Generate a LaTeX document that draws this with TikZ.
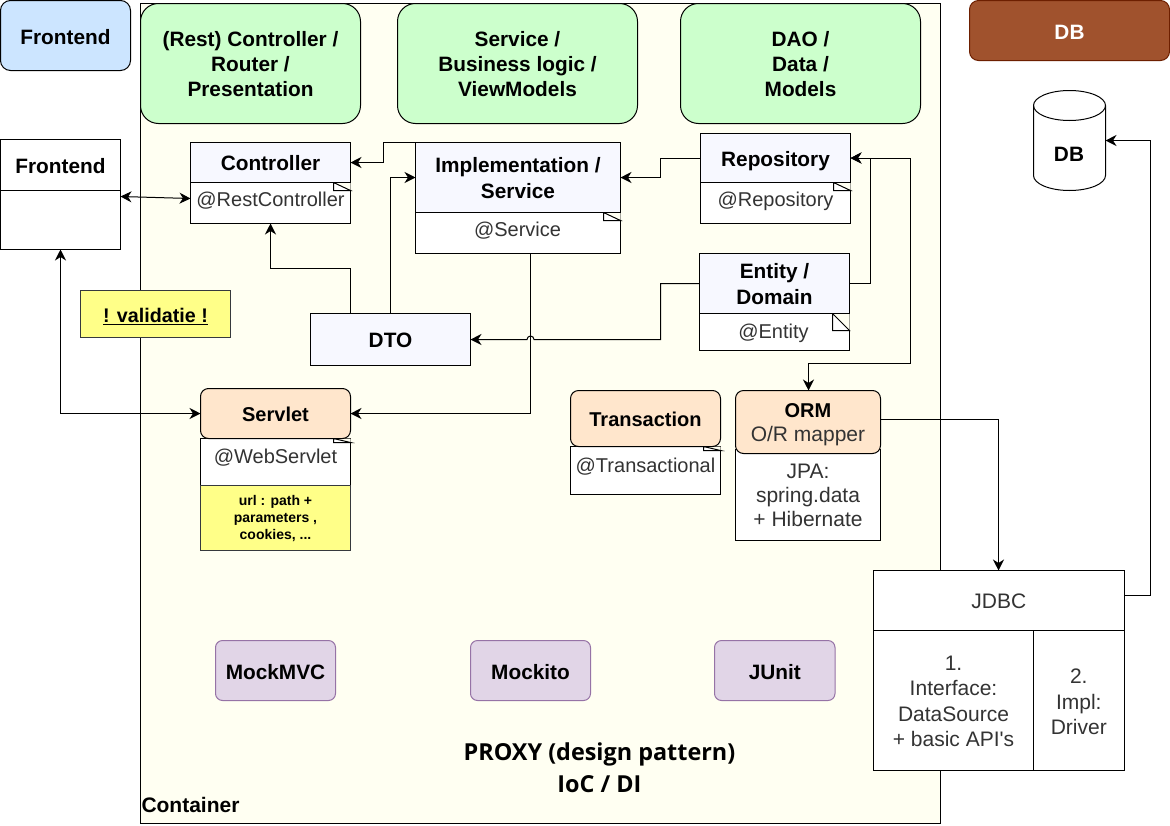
\documentclass[tikz,border=0pt]{standalone}
\usepackage{fontspec}
\setmainfont{Liberation Sans}
\newfontfamily\proxyfont{Open Sans}
\newfontfamily\aposfont{Liberation Sans}
\usetikzlibrary{arrows.meta,calc}
\newcommand{\fsz}[2]{\fontsize{#1}{#2}\selectfont}
\newcommand{\strutH}{.85}
\newcommand{\strutD}{.15}
\newcommand{\lifted}{\renewcommand{\strutH}{.81}\renewcommand{\strutD}{.19}}
\newcommand{\mystrut}{\vrule width 0pt height \strutH\baselineskip depth \strutD\baselineskip}
\tikzset{
  x=1pt,y=-1pt,
  every node/.style={inner sep=0pt,outer sep=0pt,align=center},
  strutted/.style={execute at begin node=\mystrut,execute at end node=\mystrut},
  bx/.style={draw=black,line width=1pt,anchor=north west,strutted,font=\fsz{20.8}{25}\bfseries},
  head/.style={bx,fill=headblue,font=\fsz{20.8}{25}\bfseries\lifted},
  plain/.style={bx,fill=white,font=\fsz{21}{24}},
  notebody/.style={bx,fill=white},
  notetext/.style={strutted,font=\fsz{20}{24}\color{notegray}},
  ormtext/.style={strutted,font=\fsz{21}{24}\color{notegray}},
  peach/.style={bx,fill=peachc,rounded corners=8pt,font=\fsz{20}{24}\bfseries},
  topgreen/.style={bx,fill=greenc,rounded corners=18pt,font=\fsz{20.8}{25}\bfseries\lifted},
  mock/.style={bx,fill=mockc,draw=mockd,rounded corners=7pt},
  yellowbox/.style={bx,fill=yellowc,draw=yellowd},
  conn/.style={draw=black,line width=1pt,-{Stealth[length=11pt,width=11pt,inset=3.5pt]}},
  bothconn/.style={draw=black,line width=1pt,{Stealth[length=11pt,width=11pt,inset=3.5pt]}-{Stealth[length=11pt,width=11pt,inset=3.5pt]}},
  fold/.style={draw=black,line width=1pt},
  bigtext/.style={strutted,font=\fsz{23.4}{32}\proxyfont\bfseries},
}
\definecolor{containerc}{HTML}{FFFFF2}
\definecolor{greenc}{HTML}{CCFFCC}
\definecolor{headblue}{HTML}{F7F8FF}
\definecolor{peachc}{HTML}{FFE6CC}
\definecolor{mockc}{HTML}{E1D5E7}
\definecolor{mockd}{HTML}{9673A6}
\definecolor{yellowc}{HTML}{FFFF88}
\definecolor{yellowd}{HTML}{36393D}
\definecolor{bluec}{HTML}{CCE5FF}
\definecolor{brownc}{HTML}{A0522D}
\definecolor{brownd}{HTML}{6D1F00}
\definecolor{notegray}{HTML}{333333}
% name, style, x1, y1, x2, y2, text
\newcommand{\bxat}[7]{%
  \pgfmathsetmacro{\bw}{#5-#3}\pgfmathsetmacro{\bh}{#6-#4}%
  \node[#2,minimum width=\bw pt,minimum height=\bh pt] (#1) at (#3,#4) {#7};}
% dog-ear of a note, on the node given
\newcommand{\dogear}[3]{%
  \fill[containerc] (#1.north east) -- ++(-#2,0) -- ++(#2,#3) -- cycle;
  \draw[fold] ($(#1.north east)+(-#2,0)$) -- ++(0,#3) -- ++(#2,0) -- ++(-#2,-#3);}
\begin{document}
\begin{tikzpicture}
\useasboundingbox (0.5,0.5) rectangle (1170.5,825.5);
\fill[white] (0.5,0.5) rectangle (1170.5,825.5);
% container
\bxat{container}{bx,fill=containerc}{141}{4}{941}{824}{}
\node[anchor=west,strutted,font=\fsz{21}{24}\bfseries] (containerlabel) at (142,805) {Container};
% layer titles
\bxat{front}{bx,fill=bluec,rounded corners=10pt}{1}{1}{131}{71}{Frontend}
\bxat{rest}{topgreen}{141}{4}{361}{124}{\mystrut(Rest) Controller /\\Router /\\Presentation}
\bxat{svc}{topgreen}{398}{4}{638}{124}{\mystrut Service /\\Business logic /\\ViewModels}
\bxat{dao}{topgreen}{681}{4}{921}{124}{\mystrut DAO /\\Data /\\Models}
\bxat{dbtitle}{bx,fill=brownc,draw=brownd,rounded corners=9pt,text=white}{970}{1}{1170}{61}{DB}
% DB cylinder
\node[minimum width=72pt,minimum height=100pt] (db) at (1070,141) {};
\draw[fold,fill=white] (db.north west) ++(0,15) arc[start angle=180,delta angle=180,x radius=36,y radius=15]
  -- ++(0,70) arc[start angle=0,delta angle=180,x radius=36,y radius=15] -- cycle;
\draw[fold] (db.north west) ++(0,15) arc[start angle=180,delta angle=-180,x radius=36,y radius=15];
\node[strutted,font=\fsz{20.8}{25}\bfseries] (dblabel) at (1069.5,153) {DB};
% frontend class
\bxat{fe}{bx,fill=white}{1}{140}{121}{191}{Frontend}
\bxat{febody}{bx,fill=white}{1}{191}{121}{250}{}
% controller
\bxat{ctrlnote}{notebody}{191}{183}{351}{224}{}
\dogear{ctrlnote}{17}{8}
\node[notetext] (ctrltxt) at (271,199) {@RestController};
\bxat{ctrl}{head}{191}{143}{351}{183}{Controller}
% implementation
\bxat{implnote}{notebody}{416}{213}{621}{254}{}
\dogear{implnote}{17}{8}
\node[notetext] (impltxt) at (518,229) {@Service};
\bxat{impl}{head}{416}{143}{621}{213}{\mystrut Implementation /\\[1pt]Service}
% repository
\bxat{reponote}{notebody}{701}{183}{851}{224}{}
\dogear{reponote}{17}{8}
\node[notetext] (repotxt) at (776,199) {@Repository};
\bxat{repo}{head,font=\fsz{20.8}{25}\bfseries}{701}{134}{851}{183}{Repository}
% entity
\bxat{entnote}{notebody}{700}{314}{850}{351}{}
\dogear{entnote}{17}{17}
\node[notetext] (enttxt) at (774,331) {@Entity};
\bxat{ent}{head}{700}{254}{850}{314}{\mystrut Entity /\\[1pt]Domain}
% DTO
\bxat{dto}{head}{311}{314}{471}{366}{DTO}
% validation
\bxat{valid}{yellowbox,font=\fsz{19.7}{24}\bfseries}{81}{291}{231}{338}{\underline{! validatie !}}
% servlet
\bxat{servnote}{notebody}{201}{439}{351}{486}{}
\dogear{servnote}{17}{4}
\node[notetext] (servtxt) at (276,456) {@WebServlet};
\bxat{url}{yellowbox,font=\fsz{14}{17}\bfseries}{201}{486}{351}{551}{\vrule width 0pt height 12.5pt url : path +\\parameters ,\\cookies, ...}
\bxat{serv}{peach}{201}{389}{351}{439}{Servlet}
% transaction
\bxat{transnote}{notebody}{571}{447}{721}{495}{}
\dogear{transnote}{17}{4}
\node[notetext] (transtxt) at (646,465) {@Transactional};
\bxat{trans}{peach}{571}{391}{721}{447}{Transaction}
% ORM
\bxat{ormnote}{notebody}{736}{450}{881}{541}{}
\node[ormtext] (ormtxt) at (808.5,495) {\mystrut JPA:\\spring.data\\+ Hibernate};
\bxat{orm}{peach,font=\fsz{20}{24}\bfseries\lifted}{736}{391}{881}{454}{\mystrut ORM\\{\fsz{21}{24}\mdseries\color{notegray}O/R mapper}}
% JDBC
\bxat{jdbc}{plain,text=notegray}{874}{571}{1124.5}{631}{JDBC}
\bxat{jdbca}{plain,text=notegray}{874}{631}{1034}{771}{\mystrut 1.\\[1pt]Interface:\\[1.5pt]DataSource\\[1.5pt]+ basic API{\aposfont\char"27}s}
\bxat{jdbcb}{plain,text=notegray}{1034}{631}{1124.5}{771}{\mystrut 2.\\[1.5pt]Impl:\\[1pt]Driver}
% mock
\bxat{mmvc}{mock}{216}{641}{336}{701}{MockMVC}
\bxat{mito}{mock}{471}{641}{591}{701}{Mockito}
\bxat{junit}{mock}{715}{641}{835.5}{701}{JUnit}
% proxy
\node[bigtext] (proxy) at (600,765.5) {\mystrut PROXY (design pattern)\\IoC / DI};
% connectors
\draw[conn] (impl.north west) -- (384,143) -- (384,163) -- (ctrl.east);
\draw[conn] ($(dto.north west)+(40,0)$) -- (351,269) -- (271,269) -- (ctrlnote.south);
\draw[conn] ($(dto.north west)+(80,0)$) -- (391,178) -- (impl.west);
\draw[conn] (repo.west) -- (661,158.5) -- (661,178) -- (impl.east);
\draw[conn] (ent.west) -- (661,284) -- (661,340) -- (534.5,340) arc[start angle=0,delta angle=-180,radius=3.5] -- (dto.east);
\draw[conn] (ent.east) -- (871,284) -- (871,158.5) -- (repo.east);
\draw[bothconn] (repo.east) -- (911,158.5) -- (911,364) -- (809,364) -- ($(orm.north west)+(73,0)$);
\draw[conn] ($(implnote.south west)+(115,0)$) -- (531,414) -- (serv.east);
\draw[bothconn] ($(febody.north east)+(0,6)$) -- ($(ctrlnote.north west)+(0,16)$);
\draw[bothconn] (febody.south) -- (61,414) -- (serv.west);
\draw[conn] ($(orm.north east)+(0,29)$) -- (999,420) -- (999,571);
\draw[conn] ($(jdbc.north east)+(0,25)$) -- (1151,596) -- (1151,141) -- (db.east);
\end{tikzpicture}
\end{document}
